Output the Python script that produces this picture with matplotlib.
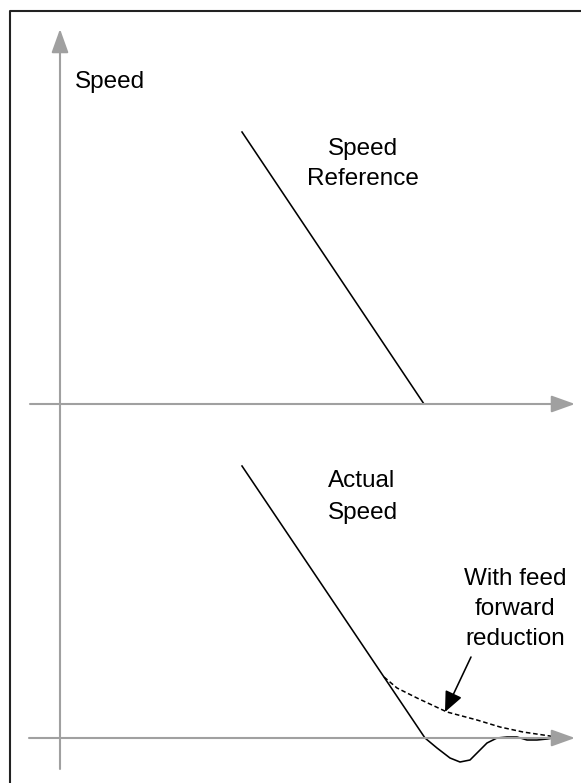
import matplotlib
matplotlib.use("Agg")
import matplotlib.pyplot as plt

# values, in picture coordinates (x right, y down)
ref_x = [242, 424]
ref_y = [132, 404]

actual_x = [242, 425, 437, 450, 460, 470, 478, 487, 497, 507, 517, 527, 537, 547, 553]
actual_y = [466, 738, 748, 758, 762, 760, 752, 743, 738, 737, 737, 740, 740, 739, 738]

ff_x = [384, 397, 417, 447, 477, 500, 523, 550, 556]
ff_y = [677, 688, 698, 712, 720, 727, 732, 736, 737]

axis_col = "#a0a0a0"
font = ["Liberation Sans", "DejaVu Sans"]

fig = plt.figure(figsize=(5.81, 7.83), dpi=100)
ax = fig.add_axes([0, 0, 1, 1])
ax.set_xlim(0, 581)
ax.set_ylim(783, 0)
ax.axis("off")

# frame (only top and left edges show)
ax.plot([10, 10, 581], [783, 11, 11], color="#222222", lw=1.5, solid_capstyle="butt")


def axis_arrow(x0, y0, x1, y1):
    ax.annotate("", xy=(x1, y1), xytext=(x0, y0),
                arrowprops=dict(arrowstyle="-|>,head_length=1.45,head_width=0.52",
                                mutation_scale=10, color=axis_col, lw=1.5,
                                shrinkA=0, shrinkB=0))


axis_arrow(60, 769, 60, 29)
axis_arrow(30, 404, 575, 404)
axis_arrow(29, 738, 575, 738)

ax.plot(ref_x, ref_y, color="black", lw=1.15)
ax.plot(actual_x, actual_y, color="black", lw=1.15)
ax.plot(ff_x, ff_y, color="black", lw=1.1, linestyle=(0, (3, 1.8)))

ax.annotate("", xy=(445, 712), xytext=(471, 657),
            arrowprops=dict(arrowstyle="-|>,head_length=1.25,head_width=0.55",
                            mutation_scale=10, color="black", lw=1.15,
                            shrinkA=0, shrinkB=0))

fs = 17.5
ax.text(75, 88, "Speed", fontsize=fs, family=font, va="baseline", ha="left")
for txt, x, y in [("Speed", 363, 155), ("Reference", 363, 185),
                  ("Actual", 362, 487), ("Speed", 363, 519),
                  ("With feed", 515, 585), ("forward", 515, 615),
                  ("reduction", 515, 645)]:
    ax.text(x, y, txt, fontsize=fs, family=font, va="baseline", ha="center")

fig.savefig("out.png", dpi=100)
